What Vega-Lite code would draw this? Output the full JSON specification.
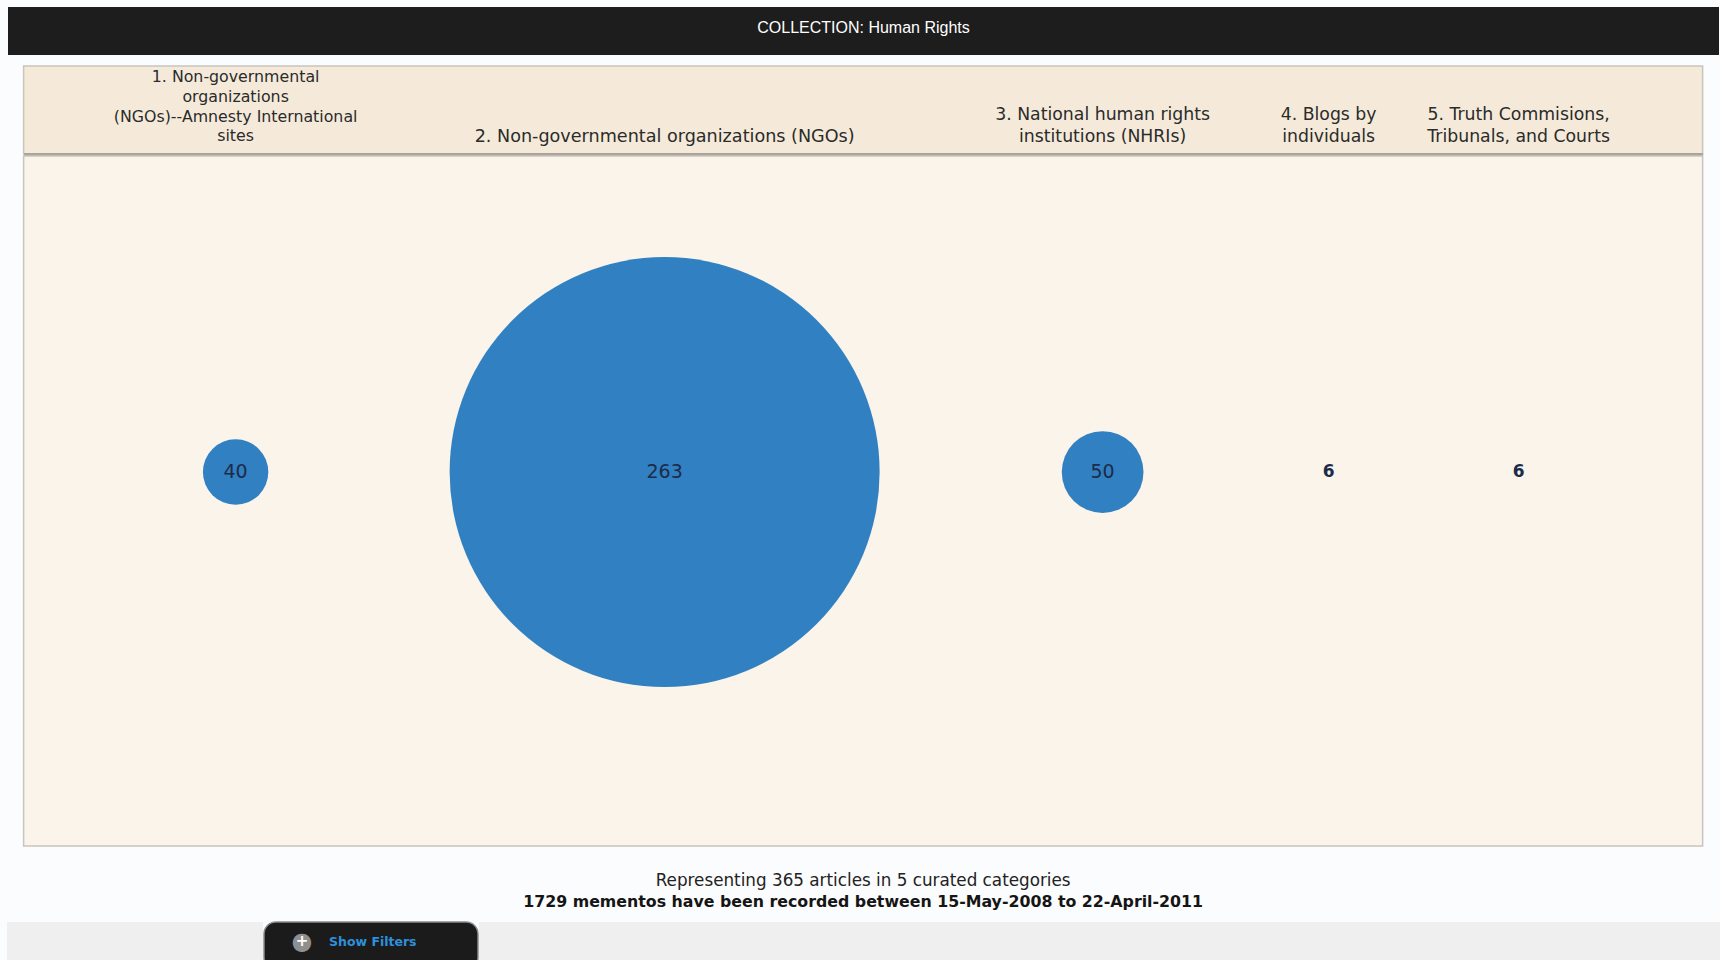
{
  "$schema": "https://vega.github.io/schema/vega-lite/v6.json",
  "background": "#fbfcfd",
  "padding": {"left": 7, "top": 7, "right": 0, "bottom": 0},
  "spacing": 10,
  "center": true,
  "config": {"view": {"stroke": null}, "font": "DejaVu Sans"},
  "datasets": {
    "categories": [
      {"rank": 1, "category": "1. Non-governmental\norganizations\n(NGOs)--Amnesty International\nsites", "count": 40},
      {"rank": 2, "category": "2. Non-governmental organizations (NGOs)", "count": 263},
      {"rank": 3, "category": "3. National human rights\ninstitutions (NHRIs)", "count": 50},
      {"rank": 4, "category": "4. Blogs by\nindividuals", "count": 6},
      {"rank": 5, "category": "5. Truth Commisions,\nTribunals, and Courts", "count": 6}
    ]
  },
  "vconcat": [
    {
      "width": 1711,
      "height": 48,
      "view": {"fill": "#1d1d1d", "stroke": null},
      "data": {"values": [{"collection": "COLLECTION: Human Rights"}]},
      "mark": {"type": "text", "color": "#ffffff", "font": "Liberation Sans", "fontSize": 16, "dy": -3},
      "encoding": {"text": {"field": "collection"}}
    },
    {
      "spacing": 0,
      "resolve": {"scale": {"x": "independent", "y": "independent", "size": "independent"}},
      "vconcat": [
        {
          "width": 1679,
          "height": 88,
          "view": {"fill": "#f5ead9", "stroke": "#c9c4bd", "strokeWidth": 1.5},
          "data": {"name": "categories"},
          "encoding": {
            "x": {
              "field": "rank",
              "type": "quantitative",
              "scale": {"domain": [0.5, 1, 2, 3, 4, 5, 5.5], "range": [0, 212, 641, 1079, 1305, 1495, 1679], "nice": false, "zero": false},
              "axis": {"orient": "bottom", "labels": false, "ticks": false, "grid": false, "title": null, "domainColor": "#aaa49b", "domainWidth": 3}
            }
          },
          "layer": [
            {
              "transform": [{"filter": "datum.rank == 1"}],
              "mark": {"type": "text", "baseline": "alphabetic", "align": "center", "lineBreak": "\n", "fontSize": 15.8, "lineHeight": 19.8, "color": "#2b2b2b", "dy": -28},
              "encoding": {"text": {"field": "category"}}
            },
            {
              "transform": [{"filter": "datum.rank == 2"}],
              "mark": {"type": "text", "baseline": "alphabetic", "align": "center", "lineBreak": "\n", "fontSize": 17.6, "lineHeight": 22, "color": "#2b2b2b", "dy": 31.5},
              "encoding": {"text": {"field": "category"}}
            },
            {
              "transform": [{"filter": "datum.rank > 2"}],
              "mark": {"type": "text", "baseline": "alphabetic", "align": "center", "lineBreak": "\n", "fontSize": 17.3, "lineHeight": 22, "color": "#2b2b2b", "dy": 9.5},
              "encoding": {"text": {"field": "category"}}
            }
          ]
        },
        {
          "width": 1679,
          "height": 690,
          "view": {"fill": "#faf4ea", "stroke": "#c9c4bd", "strokeWidth": 1.5},
          "title": {
            "text": "Representing 365 articles in 5 curated categories",
            "subtitle": "1729 mementos have been recorded between 15-May-2008 to 22-April-2011",
            "orient": "bottom",
            "anchor": "middle",
            "offset": 27,
            "font": "DejaVu Sans",
            "fontSize": 16.8,
            "fontWeight": "normal",
            "color": "#222222",
            "subtitleFont": "DejaVu Sans",
            "subtitleFontSize": 15.8,
            "subtitleFontWeight": "bold",
            "subtitleColor": "#151515",
            "subtitlePadding": 5
          },
          "data": {"name": "categories"},
          "encoding": {
            "x": {
              "field": "rank",
              "type": "quantitative",
              "scale": {"domain": [0.5, 1, 2, 3, 4, 5, 5.5], "range": [0, 212, 641, 1079, 1305, 1495, 1679], "nice": false, "zero": false},
              "axis": null
            },
            "y": {"datum": "row", "type": "nominal", "scale": {"align": 0.458}, "axis": null}
          },
          "layer": [
            {
              "transform": [{"filter": "datum.count >= 10"}],
              "mark": {"type": "circle", "color": "#3180c1", "opacity": 1},
              "encoding": {
                "size": {"field": "count", "type": "quantitative", "scale": {"type": "pow", "exponent": 2, "domain": [0, 263], "range": [0, 184900]}, "legend": null}
              }
            },
            {
              "transform": [{"filter": "datum.count >= 10"}],
              "mark": {"type": "text", "fontSize": 19, "color": "#1c2b4a"},
              "encoding": {"text": {"field": "count", "type": "quantitative"}}
            },
            {
              "transform": [{"filter": "datum.count < 10"}],
              "mark": {"type": "text", "fontSize": 17, "fontWeight": "bold", "color": "#1c2b4a"},
              "encoding": {"text": {"field": "count", "type": "quantitative"}}
            }
          ]
        }
      ]
    },
    {
      "spacing": 0,
      "hconcat": [
        {
          "width": 256,
          "height": 48,
          "view": {"fill": "#efefef", "stroke": null},
          "data": {"values": [{"blank": ""}]},
          "mark": {"type": "text"},
          "encoding": {"text": {"field": "blank"}}
        },
        {
          "width": 214,
          "height": 48,
          "view": {"fill": "#1b1b1b", "stroke": "#8a8a8a", "strokeWidth": 1.5, "cornerRadius": 12},
          "data": {"values": [{"icon": "●", "plus": "+", "label": "Show Filters"}]},
          "layer": [
            {
              "mark": {"type": "text", "fontSize": 24, "color": "#8f8f8f", "dx": -69, "dy": -4},
              "encoding": {"text": {"field": "icon"}}
            },
            {
              "mark": {"type": "text", "fontSize": 15, "fontWeight": "bold", "color": "#ffffff", "dx": -69, "dy": -5},
              "encoding": {"text": {"field": "plus"}}
            },
            {
              "mark": {"type": "text", "fontSize": 12.5, "fontWeight": "bold", "color": "#2e90dc", "align": "left", "dx": -42, "dy": -4},
              "encoding": {"text": {"field": "label"}}
            }
          ]
        },
        {
          "width": 1241,
          "height": 48,
          "view": {"fill": "#efefef", "stroke": null},
          "data": {"values": [{"blank": ""}]},
          "mark": {"type": "text"},
          "encoding": {"text": {"field": "blank"}}
        }
      ]
    }
  ]
}
